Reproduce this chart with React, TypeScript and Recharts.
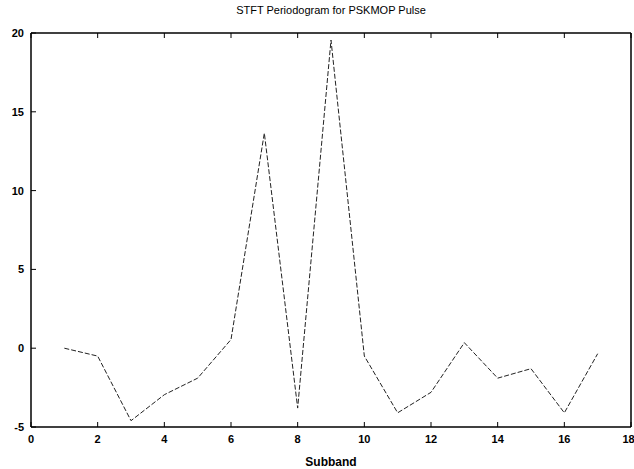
import { LineChart, Line, XAxis, YAxis } from 'recharts'

const SUBBANDS = [1, 2, 3, 4, 5, 6, 7, 8, 9, 10, 11, 12, 13, 14, 15, 16, 17]
const POWER = [0, -0.5, -4.6, -2.95, -1.9, 0.55, 13.65, -3.8, 19.55, -0.5, -4.1, -2.8, 0.35, -1.9, -1.3, -4.1, -0.35]
const X_TICKS = [0, 2, 4, 6, 8, 10, 12, 14, 16, 18]
const Y_TICKS = [-5, 0, 5, 10, 15, 20]

const data = SUBBANDS.map((s, i) => ({ subband: s, power: POWER[i] }))

const FONT = '"Liberation Sans", Arial, sans-serif'
const tickStyle = { fill: '#000', fontSize: 11, fontWeight: 700, fontFamily: FONT }
const axisStroke = { stroke: '#000', strokeWidth: 1.5 }

export default function App() {
  return (
    <div style={{ position: 'absolute', left: 0, top: 0, width: 634, height: 469, background: '#fff' }}>
      <div
        style={{
          position: 'absolute',
          top: 4,
          left: 31,
          width: 600,
          textAlign: 'center',
          fontFamily: FONT,
          fontSize: 11,
          fontWeight: 500,
          color: '#000',
        }}
      >
        STFT Periodogram for PSKMOP Pulse
      </div>
      <LineChart width={634} height={469} data={data} margin={{ top: 0, right: 0, bottom: 0, left: 0 }}>
        <XAxis
          dataKey="subband"
          type="number"
          domain={[0, 18]}
          ticks={X_TICKS}
          height={42}
          tickSize={-5}
          tickMargin={13}
          tick={tickStyle}
          axisLine={axisStroke}
          tickLine={{ stroke: '#000' }}
          label={{ value: 'Subband', position: 'insideBottom', offset: 3, fill: '#000', fontSize: 12, fontWeight: 700, fontFamily: FONT }}
        />
        <XAxis
          xAxisId="top"
          orientation="top"
          dataKey="subband"
          type="number"
          domain={[0, 18]}
          ticks={X_TICKS}
          height={33}
          tickSize={-5}
          tickFormatter={() => ''}
          axisLine={axisStroke}
          tickLine={{ stroke: '#000' }}
        />
        <YAxis
          type="number"
          domain={[-5, 20]}
          ticks={Y_TICKS}
          width={31}
          tickSize={-5}
          tickMargin={12}
          tick={tickStyle}
          axisLine={axisStroke}
          tickLine={{ stroke: '#000' }}
        />
        <YAxis
          yAxisId="right"
          orientation="right"
          type="number"
          domain={[-5, 20]}
          ticks={Y_TICKS}
          width={3}
          tickSize={-5}
          tickFormatter={() => ''}
          axisLine={axisStroke}
          tickLine={{ stroke: '#000' }}
        />
        <Line
          type="linear"
          dataKey="power"
          stroke="#222"
          strokeWidth={1}
          strokeDasharray="5 2"
          dot={false}
          isAnimationActive={false}
        />
      </LineChart>
    </div>
  )
}
